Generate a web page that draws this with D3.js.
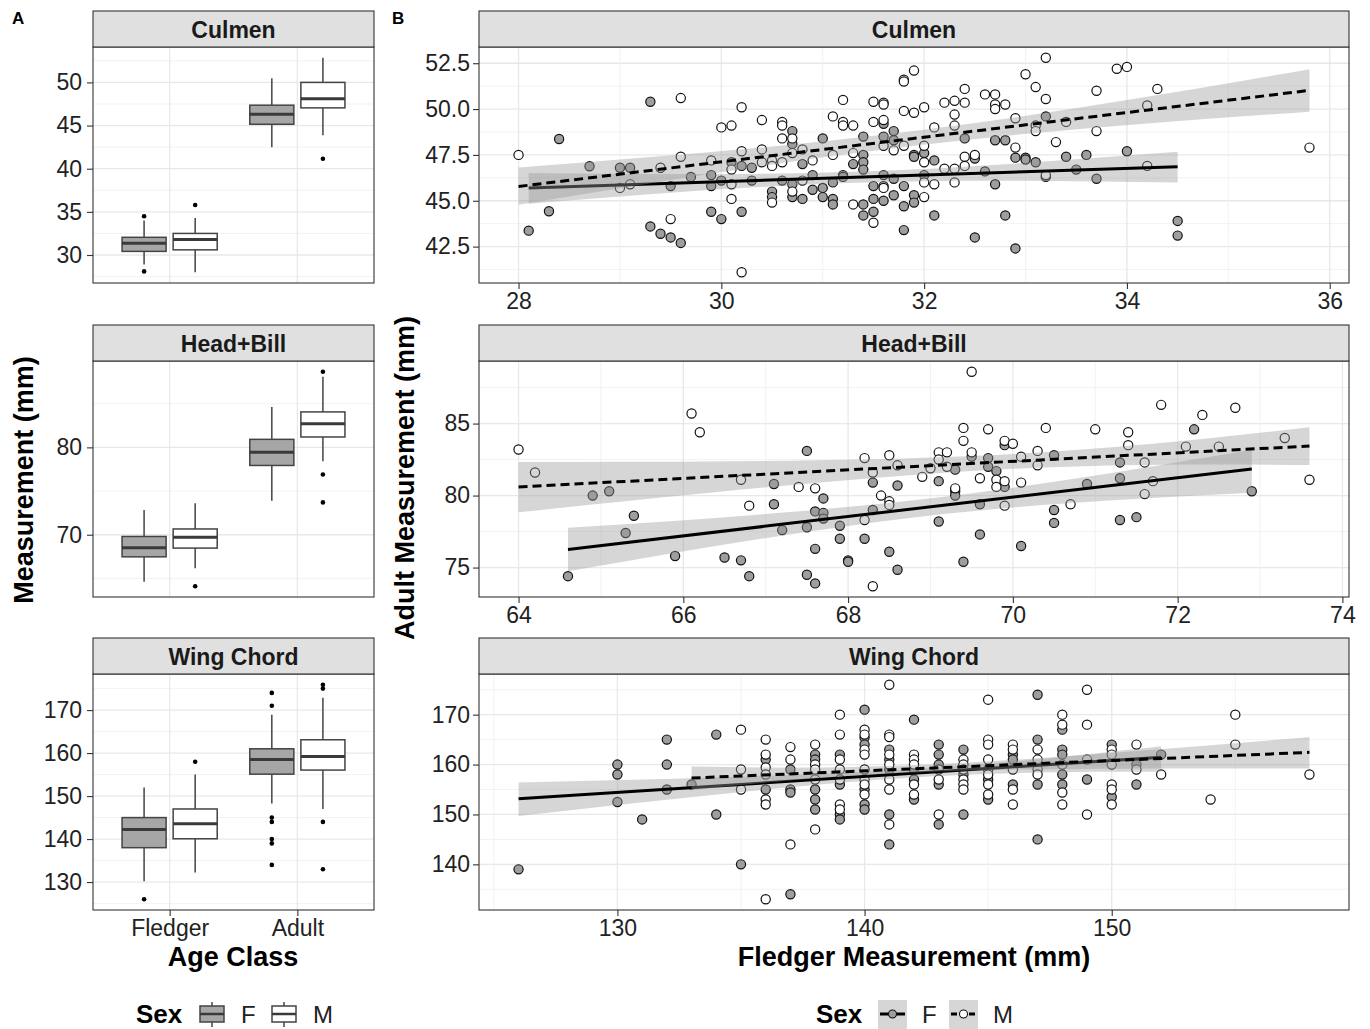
<!DOCTYPE html>
<html>
<head>
<meta charset="utf-8">
<script src="https://cdn.jsdelivr.net/npm/d3@7"></script>
<style>
  body { margin: 0; background: #fff; }
  svg text { font-family: "Liberation Sans", Arial, Helvetica, sans-serif; }
</style>
</head>
<body>
<svg id="chart" width="1370" height="1029"></svg>
<script>
// ---------- data ----------
const measures = ["Culmen", "Head+Bill", "Wing Chord"];
const ageClasses = ["Fledger", "Adult"];
const sexes = ["F", "M"];

// panel A: [age, sex, lowerWhisker, q1, median, q3, upperWhisker]
const culmenBoxStats = [
  ["Fledger", "F", 28.9, 30.42, 31.35, 32.05, 34.0],
  ["Fledger", "M", 28.0, 30.6, 31.8, 32.5, 34.3],
  ["Adult", "F", 42.5, 45.15, 46.3, 47.36, 50.47],
  ["Adult", "M", 43.87, 47.05, 48.1, 50.0, 52.86]
];
const culmenOutliers = [["Fledger", "F", 34.5], ["Fledger", "F", 28.1], ["Fledger", "M", 35.8], ["Adult", "M", 41.16]];

const headBoxStats = [
  ["Fledger", "F", 64.63, 67.47, 68.5, 69.8, 72.84],
  ["Fledger", "M", 66.17, 68.47, 69.7, 70.66, 73.6],
  ["Adult", "F", 73.9, 77.93, 79.43, 80.92, 84.63],
  ["Adult", "M", 78.4, 81.19, 82.7, 84.06, 88.08]
];
const headOutliers = [["Fledger", "M", 64.1], ["Adult", "M", 88.66], ["Adult", "M", 76.9], ["Adult", "M", 73.7]];

const wingBoxStats = [
  ["Fledger", "F", 130.2, 138.0, 142.2, 145.0, 152],
  ["Fledger", "M", 132.2, 140.07, 143.55, 147.0, 155],
  ["Adult", "F", 148.3, 155.1, 158.5, 161, 168.9],
  ["Adult", "M", 147, 156.05, 159.2, 163.1, 172.9]
];
const wingOutliers = [
  ["Fledger", "F", 126], ["Fledger", "M", 158],
  ["Adult", "F", 174], ["Adult", "F", 171], ["Adult", "F", 145], ["Adult", "F", 144],
  ["Adult", "F", 140], ["Adult", "F", 139], ["Adult", "F", 134],
  ["Adult", "M", 175.9], ["Adult", "M", 175], ["Adult", "M", 144], ["Adult", "M", 133]
];

const culmenBoxTicks = [30, 35, 40, 45, 50];
const headBoxTicks = [70, 80];
const wingBoxTicks = [130, 140, 150, 160, 170];

// panel B: [fledger, adult]
const culmenF = [[28.4,48.37],[28.1,43.37],[28.3,44.43],[28.7,46.88],[29.0,46.8],[29.1,46.8],[29.3,50.4],[29.5,45.8],[29.7,46.3],[29.3,43.6],[29.4,43.2],[29.5,43.0],[29.6,42.7],[29.9,46.4],[29.9,45.8],[29.9,44.4],[30.0,44.0],[30.1,47.1],[30.2,46.9],[30.3,46.8],[30.0,46.1],[30.2,44.4],[30.3,46.1],[30.5,45.5],[30.5,45.2],[30.6,46.1],[30.7,48.8],[30.7,48.1],[30.7,45.9],[30.7,45.2],[30.8,47.0],[30.8,45.1],[30.9,46.4],[30.9,45.6],[31.0,48.4],[31.0,45.7],[31.0,45.2],[31.1,46.0],[31.1,45.1],[31.1,44.8],[31.2,46.4],[31.2,46.3],[31.3,47.0],[31.4,48.5],[31.4,47.5],[31.4,47.1],[31.4,46.7],[31.4,44.8],[31.4,44.2],[31.5,45.8],[31.5,45.1],[31.5,44.4],[31.6,49.2],[31.6,48.5],[31.6,46.4],[31.6,45.8],[31.6,45.0],[31.7,48.8],[31.7,48.3],[31.7,46.2],[31.7,45.3],[31.8,45.8],[31.8,44.7],[31.8,43.4],[31.9,47.5],[31.9,47.4],[31.9,45.3],[31.9,44.9],[32.0,47.6],[32.0,46.4],[32.1,47.2],[32.1,44.2],[32.4,48.4],[32.5,47.3],[32.5,43.0],[32.6,46.6],[32.7,48.3],[32.7,45.9],[32.8,48.3],[32.8,44.2],[32.9,47.35],[32.9,42.4],[33.0,47.35],[33.0,47.25],[33.1,47.1],[33.2,49.6],[33.2,46.3],[33.4,47.4],[33.5,46.7],[33.6,47.5],[33.7,46.2],[34.0,47.7],[34.5,43.9],[34.5,43.1]];
const culmenM = [[28.0,47.5],[29.0,45.7],[29.1,45.9],[29.4,46.8],[29.6,50.6],[29.6,47.4],[29.5,44.0],[29.9,47.2],[30.0,49.0],[30.1,49.1],[30.2,50.1],[30.1,46.7],[30.2,47.7],[30.1,45.9],[30.1,45.1],[30.2,41.1],[30.4,49.4],[30.4,47.8],[30.4,47.1],[30.5,47.2],[30.5,46.9],[30.5,44.9],[30.6,49.3],[30.6,49.1],[30.6,48.4],[30.6,47.1],[30.7,48.4],[30.7,47.6],[30.7,45.5],[30.8,47.8],[30.8,46.1],[30.9,47.2],[31.1,49.6],[31.1,47.5],[31.2,50.5],[31.2,49.3],[31.2,49.1],[31.3,49.1],[31.3,47.6],[31.3,44.8],[31.5,50.4],[31.5,49.3],[31.5,43.8],[31.6,50.35],[31.6,50.25],[31.6,49.4],[31.6,48.0],[31.6,45.7],[31.7,47.75],[31.8,51.6],[31.8,51.5],[31.8,49.9],[31.8,48.0],[31.9,52.1],[31.9,49.8],[32.0,50.1],[32.0,48.0],[32.0,47.1],[32.0,46.0],[32.0,45.2],[32.1,49.0],[32.1,45.9],[32.2,50.35],[32.2,46.75],[32.3,50.45],[32.3,49.7],[32.3,49.1],[32.3,46.75],[32.3,46.0],[32.4,51.1],[32.4,50.35],[32.4,47.4],[32.4,46.9],[32.5,47.5],[32.6,50.8],[32.7,50.8],[32.7,50.25],[32.7,50.0],[32.8,50.25],[32.9,49.5],[32.9,47.9],[33.0,51.9],[33.1,51.2],[33.1,49.1],[33.1,48.8],[33.2,52.8],[33.2,50.55],[33.2,46.4],[33.3,48.2],[33.4,49.3],[33.7,51.0],[33.7,48.8],[33.9,52.2],[34.0,52.3],[34.2,50.2],[34.2,46.9],[34.3,51.1],[35.8,47.9]];

const headF = [[64.6,74.4],[64.9,80.0],[65.1,80.3],[65.3,77.4],[65.4,78.6],[65.9,75.8],[66.5,75.7],[66.8,74.4],[66.7,75.5],[67.1,80.8],[67.1,79.4],[67.2,77.6],[67.5,83.1],[67.5,77.8],[67.5,74.5],[67.6,78.9],[67.6,76.3],[67.6,73.9],[67.7,79.8],[67.7,78.8],[67.7,78.4],[67.9,77.9],[67.9,77.0],[68.0,75.5],[68.0,75.4],[68.2,77.0],[68.3,80.9],[68.3,79.0],[68.5,76.1],[68.6,80.7],[68.6,74.85],[69.1,81.0],[69.1,78.2],[69.3,81.8],[69.3,80.3],[69.3,80.0],[69.4,75.4],[69.5,82.7],[69.6,79.4],[69.6,77.3],[69.7,82.6],[69.7,82.0],[69.8,81.7],[69.9,83.5],[69.9,80.6],[70.1,76.5],[70.5,82.8],[70.5,79.0],[70.5,78.1],[70.9,80.8],[71.3,82.3],[71.3,81.2],[71.3,78.3],[71.5,78.5],[72.2,84.6],[72.9,80.3]];
const headM = [[64.0,83.2],[64.2,81.6],[66.1,85.7],[66.2,84.4],[66.7,81.1],[66.8,79.3],[67.4,80.6],[67.6,80.5],[68.2,82.6],[68.2,78.3],[68.3,81.6],[68.3,73.7],[68.4,80.0],[68.5,82.8],[68.5,79.6],[68.5,79.35],[68.6,82.1],[68.9,81.3],[69.0,81.9],[69.1,83.0],[69.1,82.5],[69.2,83.0],[69.2,82.0],[69.3,80.5],[69.4,84.7],[69.4,83.8],[69.5,88.6],[69.5,83.0],[69.6,81.2],[69.7,84.6],[69.8,81.1],[69.8,80.6],[69.9,83.8],[69.9,81.0],[69.9,79.3],[70.0,83.6],[70.1,82.7],[70.1,80.9],[70.3,83.1],[70.3,82.1],[70.4,84.7],[70.7,79.4],[71.0,84.6],[71.4,84.4],[71.4,83.5],[71.6,82.3],[71.6,80.1],[71.7,81.0],[71.8,86.3],[72.1,83.4],[72.3,85.6],[72.5,83.4],[72.7,86.1],[73.3,84.0],[73.6,81.1]];

const wingF = [[126,139],[130,160],[130,158],[130,152.5],[131,149],[132,165],[132,160],[132,155],[133,156],[134,166],[134,150],[135,140],[136,161],[136,155],[137,159],[137,155],[137,154.4],[137,134],[138,162],[138,161],[138,155],[138,153],[138,151],[139,162],[139,156],[139,150],[139,149],[140,171],[140,165.4],[140,164],[140,155],[140,152],[140,151],[141,163],[141,161],[141,159],[141,150],[141,144],[142,169],[142,159],[142,157],[142,153],[143,164],[143,162],[143,160],[143,156],[143,148],[144,163],[144,158],[144,150],[145,157],[145,153],[146,162],[146,161],[146,156],[147,174],[147,165],[147,156],[147,145],[148,167],[148,163],[148,162],[148,158],[148,156],[149,157],[150,164],[150,153.5],[151,160],[151,156],[152,162]];
const wingM = [[135,167],[135,159],[135,155],[136,165],[136,162],[136,159.4],[136,158],[136,153],[136,152],[136,133],[137,163.5],[137,161],[137,144],[138,164],[138,160],[138,159],[138,157],[138,147],[139,170],[139,166],[139,161],[139,159],[139,157],[139,152],[139,151],[140,167],[140,166],[140,163],[140,162],[140,159],[140,157],[140,156],[140,154],[141,176],[141,166],[141,165.5],[141,162],[141,160],[141,157],[141,155],[141,148],[142,162],[142,161],[142,160],[142,156],[142,154],[143,159],[143,157],[143,150],[144,161],[144,160],[144,159],[144,157],[144,156],[144,155],[145,173],[145,165],[145,164],[145,161],[145,159],[145,158],[145,156],[145,154],[146,164],[146,163],[146,159],[146,155],[146,152],[147,163],[147,161],[147,159],[147,158],[148,170],[148,168],[148,160],[148,154.4],[148,152],[149,175],[149,168],[149,161],[149,150],[150,163],[150,162],[150,160],[150,156],[150,155],[150,152],[151,164],[151,159],[152,158],[154,153],[155,170],[155,164],[158,158]];

// fitted lines [[x0,y0],[x1,y1]] and confidence bands [x, lower, upper]
const culmenFitF = [[28.1, 45.7], [34.5, 46.86]];
const culmenFitM = [[28.0, 45.78], [35.8, 51.02]];
const culmenBandF = [[28.1, 44.84, 46.52], [31.3, 45.98, 46.58], [34.5, 46.0, 47.67]];
const culmenBandM = [[28.0, 44.78, 46.82], [31.9, 48.0, 48.8], [35.8, 49.86, 52.17]];

const headFitF = [[64.6, 76.26], [72.9, 81.84]];
const headFitM = [[64.0, 80.6], [73.6, 83.44]];
const headBandF = [[64.6, 74.74, 77.76], [68.9, 78.55, 79.75], [72.9, 80.2, 83.19]];
const headBandM = [[64.0, 78.84, 82.33], [69.5, 81.7, 82.75], [73.6, 82.12, 84.74]];

const wingFitF = [[126, 153.13], [152, 161.45]];
const wingFitM = [[133, 157.3], [158, 162.45]];
const wingBandF = [[126, 149.7, 156.4], [141, 157.1, 158.8], [152, 158.55, 163.65]];
const wingBandM = [[133, 154.9, 159.6], [143, 158.6, 160.1], [158, 159.2, 165.5]];

const culmenXTicks = [28, 30, 32, 34, 36];
const culmenYTicks = [42.5, 45, 47.5, 50, 52.5];
const headXTicks = [64, 66, 68, 70, 72, 74];
const headYTicks = [75, 80, 85];
const wingXTicks = [130, 140, 150];
const wingYTicks = [140, 150, 160, 170];

// ---------- layout ----------
const svg = d3.select("#chart");
const rows = [
  { strip: 11, top: 47, bottom: 283 },
  { strip: 325, top: 361, bottom: 597 },
  { strip: 638, top: 674, bottom: 910 }
];
const colA = { left: 93, right: 374 };
const colB = { left: 479, right: 1349 };

const fillF = "#9e9e9e", fillBoxF = "#a6a6a6";
const tickColor = "#333", textColor = "#222";

function expanded(values) {
  const [a, b] = d3.extent(values);
  const pad = (b - a) * 0.05;
  return [a - pad, b + pad];
}

function minorBreaks(major, domain) {
  const step = major[1] - major[0];
  const out = [];
  for (let v = major[0] - step / 2; v <= domain[1]; v += step) {
    if (v >= domain[0]) out.push(v);
  }
  return out;
}

function drawFrame(g, col, row, name) {
  g.append("rect")
    .attr("x", col.left).attr("y", row.strip)
    .attr("width", col.right - col.left).attr("height", row.top - row.strip)
    .attr("fill", "#e0e0e0").attr("stroke", "#333").attr("stroke-width", 1.1);
  g.append("text")
    .attr("x", (col.left + col.right) / 2).attr("y", row.strip + 26.5)
    .attr("text-anchor", "middle").attr("font-size", 23).attr("font-weight", "bold")
    .attr("fill", "#1a1a1a").text(name);
}

function drawGridY(g, col, y, ticks) {
  const minors = minorBreaks(ticks, y.domain());
  g.selectAll(null).data(minors).join("line")
    .attr("x1", col.left).attr("x2", col.right)
    .attr("y1", d => y(d)).attr("y2", d => y(d))
    .attr("stroke", "#efefef").attr("stroke-width", 0.8);
  g.selectAll(null).data(ticks).join("line")
    .attr("x1", col.left).attr("x2", col.right)
    .attr("y1", d => y(d)).attr("y2", d => y(d))
    .attr("stroke", "#e8e8e8").attr("stroke-width", 1.3);
}

function drawGridX(g, row, x, ticks, withMinor) {
  if (withMinor) {
    const minors = minorBreaks(ticks, x.domain());
    g.selectAll(null).data(minors).join("line")
      .attr("y1", row.top).attr("y2", row.bottom)
      .attr("x1", d => x(d)).attr("x2", d => x(d))
      .attr("stroke", "#efefef").attr("stroke-width", 0.8);
  }
  g.selectAll(null).data(ticks).join("line")
    .attr("y1", row.top).attr("y2", row.bottom)
    .attr("x1", d => x(d)).attr("x2", d => x(d))
    .attr("stroke", "#e8e8e8").attr("stroke-width", 1.3);
}

function drawYAxis(g, col, y, ticks, fmt, gap) {
  const ax = g.append("g").attr("transform", `translate(${col.left},0)`)
    .call(d3.axisLeft(y).tickValues(ticks).tickFormat(fmt).tickSize(6).tickPadding(gap));
  ax.select(".domain").remove();
  ax.selectAll(".tick line").attr("stroke", tickColor).attr("stroke-width", 1.1);
  ax.selectAll(".tick text").attr("font-size", 23).attr("fill", textColor)
    .attr("font-family", '"Liberation Sans", Arial, sans-serif');
}

function drawXAxis(g, row, x, ticks, fmt) {
  const ax = g.append("g").attr("transform", `translate(0,${row.bottom})`)
    .call(d3.axisBottom(x).tickValues(ticks).tickFormat(fmt).tickSize(6).tickPadding(4));
  ax.select(".domain").remove();
  ax.selectAll(".tick line").attr("stroke", tickColor).attr("stroke-width", 1.1);
  ax.selectAll(".tick text").attr("font-size", 23).attr("fill", textColor)
    .attr("font-family", '"Liberation Sans", Arial, sans-serif');
}

function drawBorder(g, col, row) {
  g.append("rect")
    .attr("x", col.left).attr("y", row.top)
    .attr("width", col.right - col.left).attr("height", row.bottom - row.top)
    .attr("fill", "none").attr("stroke", "#333").attr("stroke-width", 1.1);
}

// ---------- panel A : boxplots ----------
const boxPanels = [
  { stats: culmenBoxStats, out: culmenOutliers, ticks: culmenBoxTicks },
  { stats: headBoxStats, out: headOutliers, ticks: headBoxTicks },
  { stats: wingBoxStats, out: wingOutliers, ticks: wingBoxTicks }
];

const xA = d3.scaleLinear().domain([0.4, 2.6]).range([colA.left, colA.right]);
const dodge = 0.2, boxWidth = 0.345;
const boxCenter = (age, sex) => xA(ageClasses.indexOf(age) + 1 + (sex === "F" ? -dodge : dodge));
const halfBox = (xA(boxWidth) - xA(0)) / 2;

boxPanels.forEach((p, i) => {
  const row = rows[i];
  const g = svg.append("g");
  const vals = p.stats.flatMap(s => [s[2], s[6]]).concat(p.out.map(o => o[2]));
  const y = d3.scaleLinear().domain(expanded(vals)).range([row.bottom, row.top]);

  g.append("rect").attr("x", colA.left).attr("y", row.top)
    .attr("width", colA.right - colA.left).attr("height", row.bottom - row.top).attr("fill", "#fff");
  drawGridY(g, colA, y, p.ticks);
  drawGridX(g, row, xA, [1, 2], false);

  p.stats.forEach(([age, sex, lo, q1, med, q3, hi]) => {
    const cx = boxCenter(age, sex);
    g.append("line").attr("x1", cx).attr("x2", cx).attr("y1", y(hi)).attr("y2", y(q3))
      .attr("stroke", "#444").attr("stroke-width", 1.5);
    g.append("line").attr("x1", cx).attr("x2", cx).attr("y1", y(q1)).attr("y2", y(lo))
      .attr("stroke", "#444").attr("stroke-width", 1.5);
    g.append("rect").attr("x", cx - halfBox).attr("y", y(q3))
      .attr("width", halfBox * 2).attr("height", y(q1) - y(q3))
      .attr("fill", sex === "F" ? fillBoxF : "#fff").attr("stroke", "#444").attr("stroke-width", 1.5);
    g.append("line").attr("x1", cx - halfBox).attr("x2", cx + halfBox).attr("y1", y(med)).attr("y2", y(med))
      .attr("stroke", "#3a3a3a").attr("stroke-width", 3);
  });
  g.selectAll(null).data(p.out).join("circle")
    .attr("cx", d => boxCenter(d[0], d[1])).attr("cy", d => y(d[2])).attr("r", 2.3).attr("fill", "#000");

  drawBorder(g, colA, row);
  drawFrame(g, colA, row, measures[i]);
  drawYAxis(g, colA, y, p.ticks, d3.format("d"), 5);
  if (i === 2) {
    drawXAxis(g, row, xA, [1, 2], d => ageClasses[d - 1]);
  }
});

// ---------- panel B : scatter + fits ----------
const scatterPanels = [
  { F: culmenF, M: culmenM, fitF: culmenFitF, fitM: culmenFitM, bandF: culmenBandF, bandM: culmenBandM,
    xt: culmenXTicks, yt: culmenYTicks, yf: d3.format(".1f") },
  { F: headF, M: headM, fitF: headFitF, fitM: headFitM, bandF: headBandF, bandM: headBandM,
    xt: headXTicks, yt: headYTicks, yf: d3.format("d") },
  { F: wingF, M: wingM, fitF: wingFitF, fitM: wingFitM, bandF: wingBandF, bandM: wingBandM,
    xt: wingXTicks, yt: wingYTicks, yf: d3.format("d") }
];

scatterPanels.forEach((p, i) => {
  const row = rows[i];
  const g = svg.append("g");
  const pts = p.F.concat(p.M);
  const bands = p.bandF.concat(p.bandM);
  const x = d3.scaleLinear().domain(expanded(pts.map(d => d[0]))).range([colB.left, colB.right]);
  const y = d3.scaleLinear()
    .domain(expanded(pts.map(d => d[1]).concat(bands.flatMap(b => [b[1], b[2]]))))
    .range([row.bottom, row.top]);

  g.append("rect").attr("x", colB.left).attr("y", row.top)
    .attr("width", colB.right - colB.left).attr("height", row.bottom - row.top).attr("fill", "#fff");
  drawGridY(g, colB, y, p.yt);
  drawGridX(g, row, x, p.xt, true);

  const sexPts = [["F", p.F], ["M", p.M]];
  sexPts.forEach(([sex, arr]) => {
    g.selectAll(null).data(arr).join("circle")
      .attr("cx", d => x(d[0])).attr("cy", d => y(d[1])).attr("r", 4.6)
      .attr("fill", sex === "F" ? fillF : "#fff").attr("stroke", "#111").attr("stroke-width", 1.2);
  });

  const area = d3.area().x(d => x(d[0])).y0(d => y(d[1])).y1(d => y(d[2])).curve(d3.curveNatural);
  const line = d3.line().x(d => x(d[0])).y(d => y(d[1]));
  [[p.bandF, p.fitF, null], [p.bandM, p.fitM, "9,5"]].forEach(([band, fit, dash]) => {
    g.append("path").attr("d", area(band)).attr("fill", "#999").attr("fill-opacity", 0.4);
    g.append("path").attr("d", line(fit)).attr("fill", "none").attr("stroke", "#000")
      .attr("stroke-width", 3).attr("stroke-dasharray", dash);
  });

  drawBorder(g, colB, row);
  drawFrame(g, colB, row, measures[i]);
  drawYAxis(g, colB, y, p.yt, p.yf, 3);
  drawXAxis(g, row, x, p.xt, d3.format("d"));
});

// ---------- titles ----------
svg.append("text").attr("x", 12).attr("y", 24).attr("font-size", 17).attr("font-weight", "bold").text("A");
svg.append("text").attr("x", 392).attr("y", 24).attr("font-size", 17).attr("font-weight", "bold").text("B");

svg.append("text").attr("transform", "translate(33,480) rotate(-90)").attr("text-anchor", "middle")
  .attr("font-size", 27).attr("font-weight", "bold").text("Measurement (mm)");
svg.append("text").attr("transform", "translate(414,478) rotate(-90)").attr("text-anchor", "middle")
  .attr("font-size", 27).attr("font-weight", "bold").text("Adult Measurement (mm)");
svg.append("text").attr("x", 233).attr("y", 966).attr("text-anchor", "middle")
  .attr("font-size", 27).attr("font-weight", "bold").text("Age Class");
svg.append("text").attr("x", 914).attr("y", 966).attr("text-anchor", "middle")
  .attr("font-size", 27).attr("font-weight", "bold").text("Fledger Measurement (mm)");

// ---------- legends ----------
const legA = svg.append("g");
legA.append("text").attr("x", 136).attr("y", 1023).attr("font-size", 26).attr("font-weight", "bold").text("Sex");
const keyAx = { F: 200, M: 272 };
sexes.forEach(s => {
  const kx = keyAx[s], kw = 24, cx = kx + kw / 2;
  legA.append("line").attr("x1", cx).attr("x2", cx).attr("y1", 1002).attr("y2", 1027)
    .attr("stroke", "#444").attr("stroke-width", 1.5);
  legA.append("rect").attr("x", kx).attr("y", 1006).attr("width", kw).attr("height", 16)
    .attr("fill", s === "F" ? fillBoxF : "#fff").attr("stroke", "#444").attr("stroke-width", 1.5);
  legA.append("line").attr("x1", kx).attr("x2", kx + kw).attr("y1", 1014).attr("y2", 1014)
    .attr("stroke", "#3a3a3a").attr("stroke-width", 2.5);
  legA.append("text").attr("x", kx + 41).attr("y", 1023).attr("font-size", 24).attr("fill", textColor).text(s);
});

const legB = svg.append("g");
legB.append("text").attr("x", 816).attr("y", 1023).attr("font-size", 26).attr("font-weight", "bold").text("Sex");
const keyBx = { F: 878, M: 949 };
sexes.forEach(s => {
  const kx = keyBx[s], kw = 29, cy = 1014;
  legB.append("rect").attr("x", kx).attr("y", 1000).attr("width", kw).attr("height", 29)
    .attr("fill", "#999").attr("fill-opacity", 0.4);
  legB.append("line").attr("x1", kx + 2).attr("x2", kx + kw - 2).attr("y1", cy).attr("y2", cy)
    .attr("stroke", "#000").attr("stroke-width", 3).attr("stroke-dasharray", s === "M" ? "6,3" : null);
  legB.append("circle").attr("cx", kx + kw / 2).attr("cy", cy).attr("r", 4)
    .attr("fill", s === "F" ? fillF : "#fff").attr("stroke", "#111").attr("stroke-width", 1.1);
  legB.append("text").attr("x", kx + 44).attr("y", 1023).attr("font-size", 24).attr("fill", textColor).text(s);
});
</script>
</body>
</html>
